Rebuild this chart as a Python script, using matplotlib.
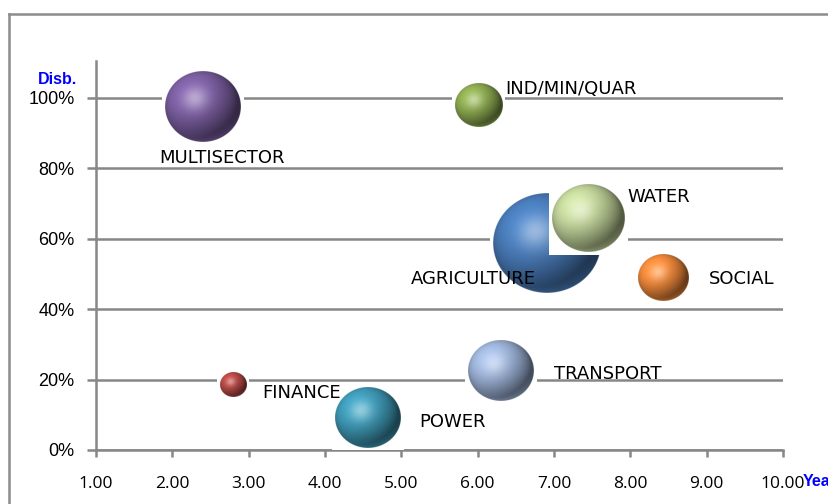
import numpy as np
import matplotlib
matplotlib.use('Agg')
import matplotlib.pyplot as plt
from matplotlib.patches import Rectangle
from matplotlib.lines import Line2D

# sector bubbles: x = years, y = share disbursed, size = relative volume
sectors = ['MULTISECTOR', 'IND/MIN/QUAR', 'AGRICULTURE', 'WATER',
           'SOCIAL', 'TRANSPORT', 'FINANCE', 'POWER']
years = [2.40, 6.01, 6.91, 7.45, 8.43, 6.31, 2.80, 4.56]
disb = [0.974, 0.980, 0.588, 0.658, 0.491, 0.226, 0.185, 0.092]
sizes = [49, 19, 100, 45, 22, 37, 5.8, 37]
colors = ['#7d60a3', '#8fad52', '#4a7dbb', '#c4d69c',
          '#f28a3c', '#9fb5da', '#b94a46', '#3f9bb8']
# label placement in pixels relative to the bubble centre
label_offsets = [(-44, -50), (27, 17), (-136, -35), (39, 22),
                 (46, -1), (53, -3), (29, -7), (52, -3)]

xticks = np.arange(1, 11)
xlabels = ['%.2f' % v for v in xticks]
yticks = [0, 0.2, 0.4, 0.6, 0.8, 1.0]
ylabels = ['%d%%' % round(v * 100) for v in yticks]

GRAY = '#878787'
R_MAX = 50  # pixel radius of the largest bubble


def sphere(hexcol, n=240):
    base = np.array(matplotlib.colors.to_rgb(hexcol))
    u = np.linspace(-1, 1, n)
    X, Y = np.meshgrid(u, -u)
    r2 = X ** 2 + Y ** 2
    Z = np.sqrt(np.clip(1 - r2, 0, 1))
    L = np.array([-0.4, 0.45, 0.8])
    L = L / np.linalg.norm(L)
    H = L + np.array([0, 0, 1.0])
    H = H / np.linalg.norm(H)
    diff = np.clip(X * L[0] + Y * L[1] + Z * L[2], 0, 1)
    col = base[None, None, :] * (0.42 + 0.68 * diff)[..., None]
    col = np.clip(col, 0, 1)
    spec = np.clip(X * H[0] + Y * H[1] + Z * H[2], 0, 1) ** 18 * 0.42
    col = col + (1 - col) * spec[..., None]
    # soft reflection along the lower rim
    refl = np.clip(-Y - 0.2, 0, 1) * np.clip(r2, 0, 1) ** 2 * 0.5
    col = col + (base[None, None, :] * 1.05 - col) * refl[..., None]
    alpha = np.clip((1 - np.sqrt(r2)) * n / 2 + 0.5, 0, 1)
    return np.dstack([np.clip(col, 0, 1), alpha])


fig = plt.figure(figsize=(8.29, 5.04), dpi=100)
ax = fig.add_axes([96 / 829, 54 / 504, 687 / 829, 389 / 504])
ax.set_xlim(1, 10)
ax.set_ylim(0, 1.105)
ax.set_autoscale_on(False)

ax.set_axisbelow(True)
ax.yaxis.grid(True, color=GRAY, lw=1.8)
for side in ['top', 'right']:
    ax.spines[side].set_visible(False)
for side in ['left', 'bottom']:
    ax.spines[side].set_color(GRAY)
    ax.spines[side].set_linewidth(1.8)
    ax.spines[side].set_zorder(0.6)

ax.set_xticks(xticks)
ax.set_xticklabels(xlabels, fontfamily='Open Sans', fontsize=12.5)
ax.set_yticks(yticks)
ax.set_yticklabels(ylabels, fontfamily='Liberation Sans', fontsize=13)
ax.tick_params(axis='x', direction='out', length=5, width=1.8, color=GRAY, pad=14)
ax.tick_params(axis='y', direction='out', length=6.5, width=1.8, color=GRAY, pad=9)

inv = ax.transData.inverted()
for i, (name, x, y, s, c, off) in enumerate(zip(sectors, years, disb, sizes,
                                                 colors, label_offsets)):
    cx, cy = ax.transData.transform((x, y))
    ry = R_MAX * np.sqrt(s / 100.0)
    rx = ry * 1.08
    x0, y0 = inv.transform((cx - rx, cy - ry))
    x1, y1 = inv.transform((cx + rx, cy + ry))
    bx0, by0 = inv.transform((cx - rx - 3, cy - ry - 3))
    bx1, by1 = inv.transform((cx + rx + 3, cy + ry + 3))
    ax.add_patch(Rectangle((bx0, by0), bx1 - bx0, by1 - by0, facecolor='white',
                           edgecolor='none', zorder=2 + 2 * i))
    ax.imshow(sphere(c), extent=(x0, x1, y0, y1), origin='upper',
              aspect='auto', interpolation='antialiased', zorder=3 + 2 * i)
    ax.annotate(name, (x, y), xytext=(off[0], off[1] - 6),
                textcoords='offset pixels', ha='left', va='baseline',
                fontsize=13, fontfamily='DejaVu Sans', color='black', zorder=40)

# outer chart frame
fig.add_artist(Line2D([9 / 829, 9 / 829], [0, 1 - 14 / 504],
                      transform=fig.transFigure, color='#8c8c8c', lw=1.8))
fig.add_artist(Line2D([9 / 829, 1], [1 - 14 / 504, 1 - 14 / 504],
                      transform=fig.transFigure, color='#8c8c8c', lw=1.8))

fig.text(77 / 829, 1 - 79 / 504, 'Disb.', ha='right', va='center',
         color='#0000ff', fontweight='bold', fontsize=11.5,
         fontfamily='Liberation Sans')
fig.text(803 / 829, 1 - 482 / 504, 'Years', ha='left', va='center',
         color='#0000ff', fontweight='bold', fontsize=11.5,
         fontfamily='Liberation Sans')

fig.savefig('out.png', dpi=100)
